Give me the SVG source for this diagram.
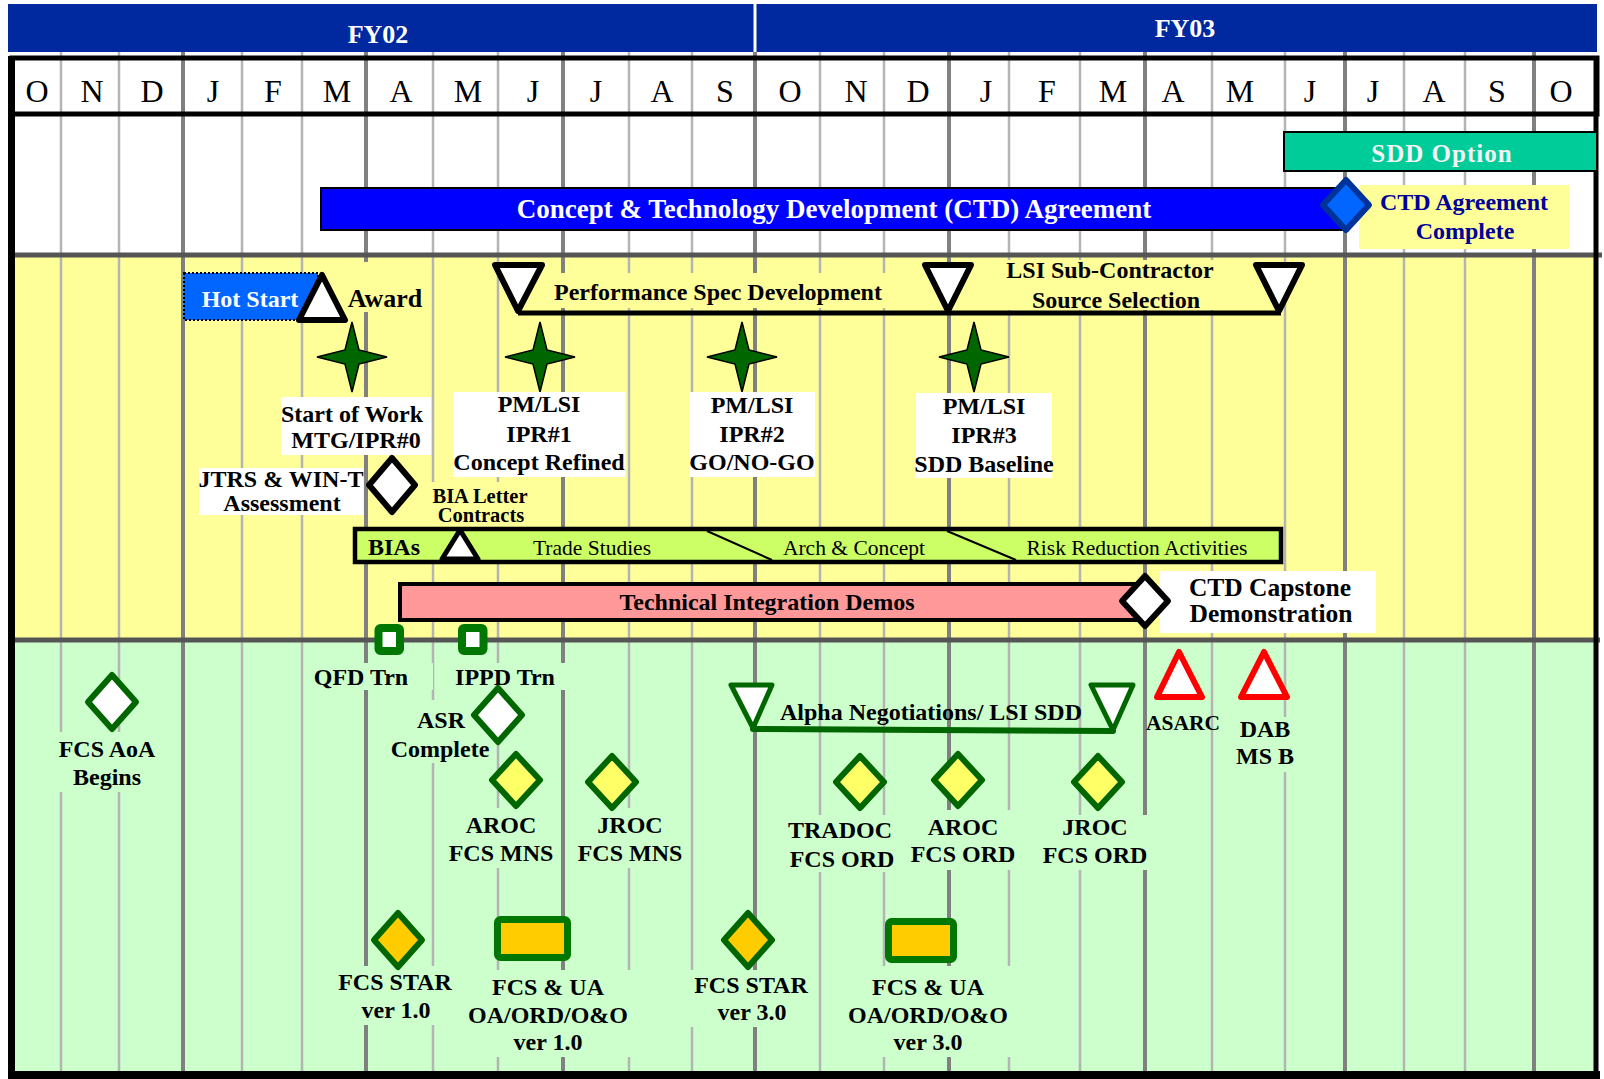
<svg xmlns="http://www.w3.org/2000/svg" width="1604" height="1079" viewBox="0 0 1604 1079">
<defs>
<style>
.lb{font-family:"Liberation Serif","Times New Roman",serif;font-weight:bold;font-size:24px;text-anchor:middle;fill:#000}
.mo{font-family:"Liberation Serif","Times New Roman",serif;font-size:32px;text-anchor:middle;fill:#000}
.nm{font-weight:normal}
.rg{stroke:#b4b4b4;stroke-width:2.5}
.qt{stroke:#808080;stroke-width:4}
.ybg{fill:#ffff99}
.gbg{fill:#ccffcc}
.wbg{fill:#ffffff}
.star{fill:#006600;stroke:#000;stroke-width:1.5;stroke-linejoin:miter}
.blk{fill:#fff;stroke:#000;stroke-width:6;stroke-linejoin:round}
.gdw{fill:#fff;stroke:#006600;stroke-width:6;stroke-linejoin:round}
.gdy{fill:#ffff66;stroke:#006600;stroke-width:6;stroke-linejoin:round}
.gdo{fill:#ffcc00;stroke:#006600;stroke-width:6;stroke-linejoin:round}
.red{fill:#fff;stroke:#ff0000;stroke-width:6;stroke-linejoin:round}
</style>
<path id="star" d="M0,-35 L7,-7 L35,0 L7,7 L0,35 L-7,7 L-35,0 L-7,-7 Z"/>
</defs>

<rect x="0" y="0" width="1604" height="1079" fill="#ffffff"/>

<g id="header">
<rect x="8" y="4" width="1589" height="48" fill="#0029a0"/>
<line x1="755" y1="4" x2="755" y2="52" stroke="#ffffff" stroke-width="3"/>
<text class="lb" x="378" y="43" style="fill:#fff;font-size:26px">FY02</text>
<text class="lb" x="1185" y="37" style="fill:#fff;font-size:26px">FY03</text>
</g>

<g id="sections">
<rect x="12" y="255" width="1585" height="385" fill="#ffff99"/>
<rect x="12" y="640" width="1585" height="434" fill="#ccffcc"/>
</g>

<g id="gridlines">
<g class="rg">
<line x1="61" y1="52" x2="61" y2="1072"/>
<line x1="119" y1="52" x2="119" y2="1072"/>
<line x1="242" y1="52" x2="242" y2="1072"/>
<line x1="302" y1="52" x2="302" y2="1072"/>
<line x1="433" y1="52" x2="433" y2="1072"/>
<line x1="498" y1="52" x2="498" y2="1072"/>
<line x1="629" y1="52" x2="629" y2="1072"/>
<line x1="692" y1="52" x2="692" y2="1072"/>
<line x1="820" y1="52" x2="820" y2="1072"/>
<line x1="884" y1="52" x2="884" y2="1072"/>
<line x1="1009" y1="52" x2="1009" y2="1072"/>
<line x1="1080" y1="52" x2="1080" y2="1072"/>
<line x1="1212" y1="52" x2="1212" y2="1072"/>
<line x1="1285" y1="52" x2="1285" y2="1072"/>
<line x1="1404" y1="52" x2="1404" y2="1072"/>
<line x1="1465" y1="52" x2="1465" y2="1072"/>
</g>
<g class="qt">
<line x1="183" y1="52" x2="183" y2="1072"/>
<line x1="366" y1="52" x2="366" y2="1072"/>
<line x1="563" y1="52" x2="563" y2="1072"/>
<line x1="755" y1="52" x2="755" y2="1072"/>
<line x1="949" y1="52" x2="949" y2="1072"/>
<line x1="1145" y1="52" x2="1145" y2="1072"/>
<line x1="1345" y1="52" x2="1345" y2="1072"/>
<line x1="1534" y1="52" x2="1534" y2="1072"/>
</g>
</g>

<g id="months">
<rect x="12" y="58" width="1585" height="56" fill="none" stroke="#000" stroke-width="5"/>
<text class="mo" x="37" y="102">O</text>
<text class="mo" x="92" y="102">N</text>
<text class="mo" x="152" y="102">D</text>
<text class="mo" x="213" y="102">J</text>
<text class="mo" x="273" y="102">F</text>
<text class="mo" x="337" y="102">M</text>
<text class="mo" x="401" y="102">A</text>
<text class="mo" x="468" y="102">M</text>
<text class="mo" x="533" y="102">J</text>
<text class="mo" x="596" y="102">J</text>
<text class="mo" x="662" y="102">A</text>
<text class="mo" x="725" y="102">S</text>
<text class="mo" x="790" y="102">O</text>
<text class="mo" x="856" y="102">N</text>
<text class="mo" x="918" y="102">D</text>
<text class="mo" x="986" y="102">J</text>
<text class="mo" x="1047" y="102">F</text>
<text class="mo" x="1113" y="102">M</text>
<text class="mo" x="1173" y="102">A</text>
<text class="mo" x="1240" y="102">M</text>
<text class="mo" x="1310" y="102">J</text>
<text class="mo" x="1373" y="102">J</text>
<text class="mo" x="1434" y="102">A</text>
<text class="mo" x="1497" y="102">S</text>
<text class="mo" x="1561" y="102">O</text>
</g>

<g id="frame">
<line x1="12" y1="255" x2="1602" y2="255" stroke="#555" stroke-width="5"/>
<line x1="12" y1="640" x2="1600" y2="640" stroke="#555" stroke-width="5"/>
<line x1="11.5" y1="56" x2="11.5" y2="1079" stroke="#000" stroke-width="7"/>
<line x1="1596" y1="56" x2="1596" y2="1079" stroke="#000" stroke-width="5"/>
<line x1="8" y1="1075" x2="1600" y2="1075" stroke="#000" stroke-width="8"/>
</g>

<g id="connectors">
<line x1="518" y1="313" x2="1281" y2="313" stroke="#000" stroke-width="5"/>
<line x1="753" y1="729" x2="1113" y2="731" stroke="#006600" stroke-width="6" stroke-linecap="round"/>
</g>

<g id="sdd-option">
<rect x="1284" y="132" width="313" height="39" fill="#00cc99" stroke="#000" stroke-width="2"/>
<text class="lb" x="1442" y="162" style="fill:#f4f4f4;letter-spacing:1px;font-size:25px">SDD Option</text>
</g>

<g id="ctd-agreement">
<rect x="321" y="188" width="1023" height="42" fill="#0000ff" stroke="#000" stroke-width="2"/>
<text class="lb" x="834" y="218" style="fill:#fff;font-size:27px">Concept &amp; Technology Development (CTD) Agreement</text>
</g>

<g id="ctd-complete">
<rect x="1359" y="185" width="210" height="64" class="ybg"/>
<polygon points="1346,180 1369,205 1346,230 1323,205" fill="#0066ff" stroke="#003399" stroke-width="6" stroke-linejoin="round"/>
<text class="lb" x="1464" y="210" style="fill:#000099">CTD Agreement</text>
<text class="lb" x="1465" y="239" style="fill:#000099">Complete</text>
</g>

<g id="hot-start">
<rect x="184" y="273" width="134" height="47" fill="#0066ff" stroke="#000" stroke-width="2" stroke-dasharray="2,2"/>
<text class="lb" x="250" y="307" style="fill:#fff">Hot Start</text>
</g>

<g id="award">
<rect x="342" y="262" width="86" height="50" class="ybg"/>
<polygon points="322,275 345,320 299,320" class="blk"/>
<text class="lb" x="385" y="307" style="font-size:26px">Award</text>
</g>

<g id="perf-spec">
<rect x="546" y="273" width="342" height="35" class="ybg"/>
<polygon points="495,265 542,265 518,311" class="blk"/>
<polygon points="925,265 971,265 948,311" class="blk"/>
<text class="lb" x="718" y="300">Performance Spec Development</text>
</g>

<g id="lsi-sub">
<rect x="992" y="260" width="234" height="50" class="ybg"/>
<polygon points="1256,265 1302,265 1279,311" class="blk"/>
<text class="lb" x="1110" y="278">LSI Sub-Contractor</text>
<text class="lb" x="1116" y="308">Source Selection</text>
</g>

<g id="start-of-work">
<use href="#star" x="352" y="357" class="star"/>
<rect x="281" y="397" width="150" height="58" class="wbg"/>
<text class="lb" x="352" y="422">Start of Work</text>
<text class="lb" x="356" y="448">MTG/IPR#0</text>
</g>

<g id="ipr1">
<use href="#star" x="540" y="357" class="star"/>
<rect x="453" y="392" width="172" height="85" class="wbg"/>
<text class="lb" x="539" y="412">PM/LSI</text>
<text class="lb" x="539" y="442">IPR#1</text>
<text class="lb" x="539" y="470">Concept Refined</text>
</g>

<g id="ipr2">
<use href="#star" x="742" y="357" class="star"/>
<rect x="689" y="392" width="126" height="85" class="wbg"/>
<text class="lb" x="752" y="413">PM/LSI</text>
<text class="lb" x="752" y="442">IPR#2</text>
<text class="lb" x="752" y="470">GO/NO-GO</text>
</g>

<g id="ipr3">
<use href="#star" x="974" y="357" class="star"/>
<rect x="916" y="393" width="136" height="85" class="wbg"/>
<text class="lb" x="984" y="414">PM/LSI</text>
<text class="lb" x="984" y="443">IPR#3</text>
<text class="lb" x="984" y="472">SDD Baseline</text>
</g>

<g id="jtrs">
<rect x="199" y="468" width="164" height="47" class="wbg"/>
<polygon points="392,458 415,485 392,512 369,485" class="blk"/>
<text class="lb" x="281" y="487">JTRS &amp; WIN-T</text>
<text class="lb" x="282" y="511">Assessment</text>
</g>

<g id="bia-letter">
<rect x="428" y="482" width="104" height="45" class="ybg"/>
<text class="lb" x="480" y="503" style="font-size:20.5px">BIA Letter</text>
<text class="lb" x="481" y="522" style="font-size:20.5px">Contracts</text>
</g>

<g id="bias">
<rect x="355" y="529" width="926" height="33" fill="#ccff66" stroke="#000" stroke-width="4.5"/>
<line x1="707" y1="531" x2="772" y2="560" stroke="#000" stroke-width="2"/>
<line x1="947" y1="531" x2="1016" y2="560" stroke="#000" stroke-width="2"/>
<text class="lb" x="368" y="555" style="text-anchor:start">BIAs</text>
<text class="lb nm" x="592" y="555" style="font-size:21.5px">Trade Studies</text>
<text class="lb nm" x="854" y="555" style="font-size:21.5px">Arch &amp; Concept</text>
<text class="lb nm" x="1137" y="555" style="font-size:21.5px">Risk Reduction Activities</text>
<polygon points="460,530 478,559 442,559" fill="#fff" stroke="#000" stroke-width="5" stroke-linejoin="round"/>
</g>

<g id="tech-demos">
<rect x="400" y="584" width="743" height="36" fill="#ff9999" stroke="#000" stroke-width="4"/>
<text class="lb" x="767" y="610">Technical Integration Demos</text>
</g>

<g id="capstone">
<rect x="1160" y="571" width="216" height="62" class="wbg"/>
<polygon points="1145,576 1168,601 1145,626 1122,601" class="blk"/>
<text class="lb" x="1270" y="596" style="font-size:25.5px">CTD Capstone</text>
<text class="lb" x="1271" y="622" style="font-size:25.5px">Demonstration</text>
</g>

<g id="qfd">
<rect x="305" y="663" width="128" height="27" class="gbg"/>
<rect x="378.5" y="628" width="21.5" height="23" rx="2" fill="#fff" stroke="#007700" stroke-width="8"/>
<text class="lb" x="361" y="685">QFD Trn</text>
</g>

<g id="ippd">
<rect x="449" y="663" width="117" height="27" class="gbg"/>
<rect x="462" y="628" width="21.5" height="23" rx="2" fill="#fff" stroke="#007700" stroke-width="8"/>
<text class="lb" x="505" y="685">IPPD Trn</text>
</g>

<g id="fcs-aoa">
<rect x="55" y="732" width="105" height="60" class="gbg"/>
<polygon points="112,675 136,702 112,729 88,702" class="gdw"/>
<text class="lb" x="107" y="757">FCS AoA</text>
<text class="lb" x="107" y="785">Begins</text>
</g>

<g id="asr">
<rect x="388" y="700" width="100" height="63" class="gbg"/>
<polygon points="498,688 522,715 498,742 474,715" class="gdw"/>
<text class="lb" x="441" y="728">ASR</text>
<text class="lb" x="440" y="757">Complete</text>
</g>

<g id="aroc-mns">
<rect x="446" y="808" width="110" height="60" class="gbg"/>
<polygon points="516,754 540,780 516,806 492,780" class="gdy"/>
<text class="lb" x="501" y="833">AROC</text>
<text class="lb" x="501" y="861">FCS MNS</text>
</g>

<g id="jroc-mns">
<rect x="574" y="808" width="112" height="60" class="gbg"/>
<polygon points="612,756 636,782 612,808 588,782" class="gdy"/>
<text class="lb" x="630" y="833">JROC</text>
<text class="lb" x="630" y="861">FCS MNS</text>
</g>

<g id="alpha">
<polygon points="731,685 772,685 753,728" class="gdw" style="stroke-width:5"/>
<polygon points="1091,685 1133,685 1113,730" class="gdw" style="stroke-width:5"/>
<text class="lb" x="931" y="720">Alpha Negotiations/ LSI SDD</text>
</g>

<g id="tradoc">
<rect x="788" y="815" width="106" height="57" class="gbg"/>
<polygon points="860,756 884,782 860,808 836,782" class="gdy"/>
<text class="lb" x="840" y="838">TRADOC</text>
<text class="lb" x="842" y="867">FCS ORD</text>
</g>

<g id="aroc-ord">
<rect x="910" y="810" width="106" height="60" class="gbg"/>
<polygon points="958,754 982,780 958,806 934,780" class="gdy"/>
<text class="lb" x="963" y="835">AROC</text>
<text class="lb" x="963" y="862">FCS ORD</text>
</g>

<g id="jroc-ord">
<rect x="1040" y="815" width="110" height="55" class="gbg"/>
<polygon points="1098,756 1122,782 1098,808 1074,782" class="gdy"/>
<text class="lb" x="1095" y="835">JROC</text>
<text class="lb" x="1095" y="863">FCS ORD</text>
</g>

<g id="asarc">
<polygon points="1179,652 1202,697 1157,697" class="red"/>
<text class="lb" x="1183" y="730" style="font-size:21.5px">ASARC</text>
</g>

<g id="dab">
<rect x="1236" y="717" width="60" height="55" class="gbg"/>
<polygon points="1264,652 1287,697 1241,697" class="red"/>
<text class="lb" x="1265" y="737">DAB</text>
<text class="lb" x="1265" y="764">MS B</text>
</g>

<g id="star1">
<rect x="335" y="966" width="122" height="59" class="gbg"/>
<polygon points="398,913 422,940 398,967 374,940" class="gdo"/>
<text class="lb" x="395" y="990">FCS STAR</text>
<text class="lb" x="396" y="1018">ver 1.0</text>
</g>

<g id="ua1">
<rect x="466" y="970" width="166" height="87" class="gbg"/>
<rect x="497.5" y="919.5" width="70" height="38" rx="3" fill="#ffcc00" stroke="#007700" stroke-width="7"/>
<text class="lb" x="548" y="995">FCS &amp; UA</text>
<text class="lb" x="548" y="1023">OA/ORD/O&amp;O</text>
<text class="lb" x="548" y="1050">ver 1.0</text>
</g>

<g id="star3">
<rect x="686" y="970" width="128" height="57" class="gbg"/>
<polygon points="748,913 772,940 748,967 724,940" class="gdo"/>
<text class="lb" x="751" y="993">FCS STAR</text>
<text class="lb" x="752" y="1020">ver 3.0</text>
</g>

<g id="ua3">
<rect x="848" y="966" width="168" height="91" class="gbg"/>
<rect x="888.5" y="921.5" width="65" height="38" rx="3" fill="#ffcc00" stroke="#007700" stroke-width="7"/>
<text class="lb" x="928" y="995">FCS &amp; UA</text>
<text class="lb" x="928" y="1023">OA/ORD/O&amp;O</text>
<text class="lb" x="928" y="1050">ver 3.0</text>
</g>
</svg>
